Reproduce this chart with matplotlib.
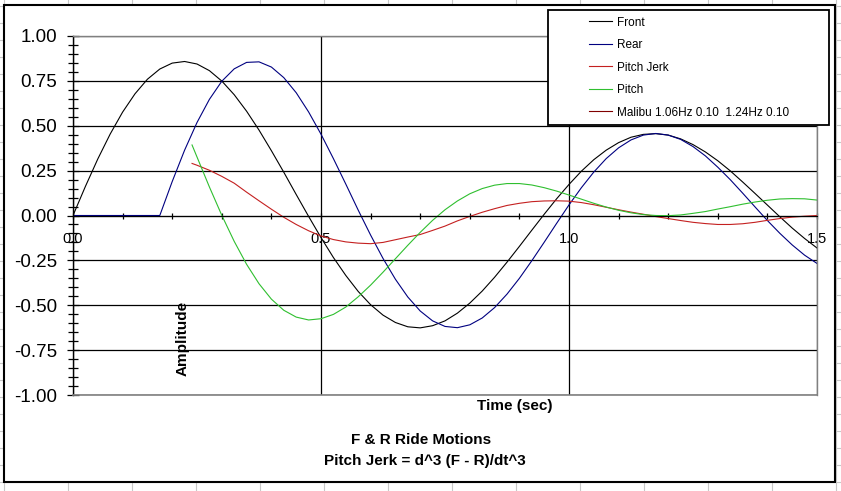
import numpy as np
import matplotlib
matplotlib.use("Agg")
import matplotlib.pyplot as plt
from matplotlib.lines import Line2D
from matplotlib.patches import Rectangle
from matplotlib.ticker import MultipleLocator, FormatStrFormatter

plt.rcParams['font.family'] = ['Liberation Sans', 'DejaVu Sans']
plt.rcParams['axes.unicode_minus'] = False

# time grid (sec), 0.025 s steps
time = np.linspace(0, 1.5, 61)

front = [0.000, 0.162, 0.315, 0.454, 0.576, 0.678, 0.759, 0.816, 0.849, 0.858,
         0.844, 0.807, 0.749, 0.673, 0.581, 0.476, 0.361, 0.241, 0.117, -0.005,
         -0.123, -0.234, -0.334, -0.423, -0.497, -0.555, -0.596, -0.620, -0.626, -0.614,
         -0.587, -0.544, -0.488, -0.421, -0.344, -0.260, -0.172, -0.082, 0.007, 0.093,
         0.173, 0.247, 0.311, 0.364, 0.406, 0.436, 0.452, 0.456, 0.448, 0.427,
         0.395, 0.354, 0.305, 0.249, 0.187, 0.123, 0.058, -0.007, -0.070, -0.128,
         -0.181]

rear = [0.0, 0.0, 0.0, 0.0, 0.0, 0.0, 0.0, 0.0,
        0.189, 0.364, 0.518, 0.647, 0.748, 0.817, 0.853, 0.856, 0.827, 0.768,
        0.684, 0.577, 0.453, 0.317, 0.175, 0.030, -0.109, -0.239, -0.355, -0.454,
        -0.532, -0.587, -0.618, -0.625, -0.609, -0.571, -0.513, -0.438, -0.350, -0.252,
        -0.149, -0.044, 0.059, 0.155, 0.242, 0.317, 0.377, 0.421, 0.448, 0.457,
        0.448, 0.424, 0.384, 0.332, 0.269, 0.200, 0.125, 0.048, -0.028, -0.099,
        -0.164, -0.221, -0.267]

# pitch and pitch jerk start a little later
pitch_t = np.concatenate([[0.24], time[10:]])

pitch = [0.393, 0.326, 0.159, 0.001, -0.144, -0.272, -0.380, -0.466, -0.528, -0.566,
         -0.582, -0.575, -0.551, -0.510, -0.453, -0.388, -0.316, -0.241, -0.166, -0.094,
         -0.027, 0.032, 0.081, 0.121, 0.150, 0.169, 0.178, 0.178, 0.170, 0.155,
         0.136, 0.114, 0.091, 0.068, 0.047, 0.029, 0.015, 0.005, 0.000, -0.001,
         0.003, 0.012, 0.022, 0.036, 0.049, 0.063, 0.075, 0.085, 0.092, 0.094,
         0.093, 0.086]

jerk = [0.290, 0.280, 0.252, 0.218, 0.180, 0.130, 0.082, 0.035, -0.010, -0.050,
        -0.085, -0.114, -0.134, -0.147, -0.154, -0.157, -0.150, -0.135, -0.120, -0.106,
        -0.083, -0.059, -0.030, -0.005, 0.018, 0.038, 0.056, 0.068, 0.077, 0.081,
        0.082, 0.080, 0.072, 0.060, 0.046, 0.032, 0.019, 0.007, -0.006, -0.017,
        -0.028, -0.038, -0.045, -0.050, -0.050, -0.046, -0.038, -0.027, -0.017, -0.009,
        -0.004, 0.000]

W, H = 841, 491


def fx(px):
    return px / W


def fy(py):
    return 1 - py / H


fig = plt.figure(figsize=(W / 100, H / 100), dpi=100)
fig.patch.set_facecolor('white')

# spreadsheet cells behind the chart
for x in range(4, W, 64):
    fig.add_artist(Line2D([fx(x), fx(x)], [0, 1], color='#c8c8c8', lw=0.8, zorder=-20))
for y in range(6, H, 17):
    fig.add_artist(Line2D([0, 1], [fy(y), fy(y)], color='#c8c8c8', lw=0.8, zorder=-20))

# chart area
fig.add_artist(Rectangle((fx(4), fy(482)), fx(835) - fx(4), fy(5) - fy(482),
                         transform=fig.transFigure, facecolor='white',
                         edgecolor='black', lw=1.5, zorder=-10))

ax = fig.add_axes([fx(73), fy(395), fx(817) - fx(73), fy(36) - fy(395)])
ax.set_facecolor('none')

ax.plot(time, front, color='black', lw=0.8, label='Front')
ax.plot(time, rear, color='#000080', lw=0.8, label='Rear')
ax.plot(pitch_t, jerk, color='#c42020', lw=0.8, label='Pitch Jerk')
ax.plot(pitch_t, pitch, color='#2fbf2f', lw=0.8, label='Pitch')
ax.plot([], [], color='#800000', lw=0.8, label='Malibu 1.06Hz 0.10  1.24Hz 0.10')

ax.set_xlim(0, 1.5)
ax.set_ylim(-1, 1)

ax.xaxis.set_major_locator(MultipleLocator(0.5))
ax.xaxis.set_minor_locator(MultipleLocator(0.1))
ax.yaxis.set_major_locator(MultipleLocator(0.25))
ax.yaxis.set_minor_locator(MultipleLocator(0.05))
ax.xaxis.set_major_formatter(FormatStrFormatter('%.1f'))
ax.yaxis.set_major_formatter(FormatStrFormatter('%.2f'))

ax.grid(True, which='major', color='black', lw=0.9)
ax.set_axisbelow(True)

ax.spines['bottom'].set_position(('data', 0))
ax.spines['bottom'].set_color('black')
ax.spines['left'].set_color('black')
ax.spines['left'].set_linewidth(1.0)
for s in ['top', 'right']:
    ax.spines[s].set_color('#808080')
    ax.spines[s].set_linewidth(1.0)
ax.axhline(-1, color='#808080', lw=1.2, clip_on=False, zorder=2.6)

ax.tick_params(axis='y', which='major', direction='inout', length=9, width=0.9,
               labelsize=13.5, pad=7)
ax.tick_params(axis='y', which='minor', direction='inout', length=6.5, width=0.9)
ax.tick_params(axis='x', which='major', direction='inout', length=5, width=0.9,
               labelsize=10.5, pad=9.5)
ax.tick_params(axis='x', which='minor', direction='inout', length=5, width=0.9)

# legend box
fig.add_artist(Rectangle((fx(548), fy(125)), fx(829) - fx(548), fy(10) - fy(125),
                         transform=fig.transFigure, facecolor='white',
                         edgecolor='black', lw=1.3, zorder=4))
handles, labels = ax.get_legend_handles_labels()
leg = fig.legend(handles, labels, loc='upper left', bbox_to_anchor=(fx(589), fy(16.5)),
                 frameon=False, fontsize=8.5, handlelength=1.95, handletextpad=0.4,
                 labelspacing=0.89, borderpad=0, borderaxespad=0)
leg.set_zorder(5)

fig.text(fx(183), fy(338), 'Amplitude', rotation=90, ha='center', va='center',
         fontsize=11, fontweight='bold')
fig.text(fx(515), fy(406), 'Time (sec)', ha='center', va='center',
         fontsize=11, fontweight='bold')
fig.text(fx(421), fy(440), 'F & R Ride Motions', ha='center', va='center',
         fontsize=11, fontweight='bold')
fig.text(fx(425), fy(461), 'Pitch Jerk = d^3 (F - R)/dt^3', ha='center', va='center',
         fontsize=11, fontweight='bold')

fig.savefig('out.png', dpi=100)
